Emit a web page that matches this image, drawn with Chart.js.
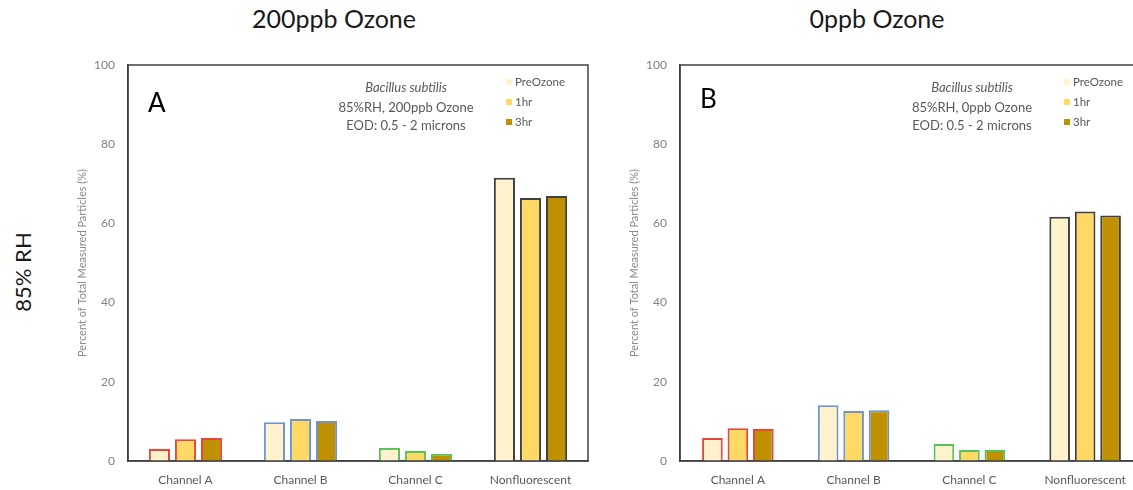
<!DOCTYPE html>
<html>
<head>
<meta charset="utf-8">
<script src="https://cdn.jsdelivr.net/npm/chart.js@4.4.1/dist/chart.umd.min.js"></script>
<style>
  html, body { margin: 0; padding: 0; background: #fff; width: 1133px; height: 490px; overflow: hidden; position: relative; font-family: Lato, "Open Sans", sans-serif; }
  .title { position: absolute; top: 3px; font-size: 25px; color: #1a1a1a; white-space: nowrap; transform: translateX(-50%); }
  #rh { position: absolute; left: 22px; top: 272px; font-size: 22px; color: #1a1a1a; white-space: nowrap; transform: translate(-50%, -50%) rotate(-90deg); }
  .wrap { position: absolute; top: 0; height: 490px; }
</style>
</head>
<body>
<div class="title" style="left:334px;">200ppb Ozone</div>
<div class="title" style="left:877px;">0ppb Ozone</div>
<div id="rh">85% RH</div>
<div class="wrap" style="left:60px;width:540px;"><canvas id="c1" width="540" height="490"></canvas></div>
<div class="wrap" style="left:612px;width:560px;"><canvas id="c2" width="560" height="490"></canvas></div>
<script>
const categories = ['Channel A', 'Channel B', 'Channel C', 'Nonfluorescent'];
const seriesNames = ['PreOzone', '1hr', '3hr'];
const yTicks = [0, 20, 40, 60, 80, 100];

// Panel A: 85%RH, 200ppb Ozone
const a_PreOzone = [3.0, 9.8, 3.3, 71.5];
const a_1hr      = [5.5, 10.6, 2.5, 66.4];
const a_3hr      = [5.8, 10.1, 1.8, 66.9];

// Panel B: 85%RH, 0ppb Ozone
const b_PreOzone = [5.8, 14.1, 4.3, 61.7];
const b_1hr      = [8.3, 12.6, 2.8, 63.0];
const b_3hr      = [8.1, 12.8, 2.8, 62.0];

const fills = ['#FFF2CC', '#FFD966', '#BF9000'];
const edgeByCategory = ['#E8453C', '#6F93CF', '#55C25A', '#404040'];
const FONT = 'Lato, "Open Sans", sans-serif';

function makeChart(id, data, opts) {
  const ctx = document.getElementById(id);
  const annot = {
    id: 'annot',
    afterDraw(chart) {
      const c = chart.ctx, a = chart.chartArea;
      c.save();
      c.strokeStyle = '#404040';
      c.lineWidth = 1.5;
      c.strokeRect(a.left, a.top, a.right - a.left, a.bottom - a.top);
      c.fillStyle = '#000';
      c.font = '26px ' + FONT;
      c.textAlign = 'left';
      c.textBaseline = 'alphabetic';
      c.fillText(opts.letter, opts.letterX, opts.letterY);
      c.fillStyle = '#595959';
      c.textAlign = 'center';
      c.font = 'italic 13px ' + FONT;
      c.fillText('Bacillus subtilis', opts.annX, 92);
      c.font = '13px ' + FONT;
      c.fillText(opts.line2, opts.annX, 112);
      c.fillText('EOD: 0.5 - 2 microns', opts.annX, 130);
      c.font = '11.5px ' + FONT;
      c.textAlign = 'left';
      c.textBaseline = 'middle';
      const ys = [82, 102, 122];
      seriesNames.forEach((n, i) => {
        c.fillStyle = fills[i];
        c.fillRect(opts.legX, ys[i] - 3, 6, 6);
        c.fillStyle = '#595959';
        c.fillText(n, opts.legX + 9, ys[i]);
      });
      c.restore();
    }
  };
  return new Chart(ctx, {
    type: 'bar',
    data: {
      labels: categories,
      datasets: seriesNames.map((n, i) => ({
        label: n,
        data: data[i],
        backgroundColor: fills[i],
        borderColor: edgeByCategory,
        borderWidth: 2,
        borderSkipped: 'start',
        categoryPercentage: opts.cp,
        barPercentage: 0.81
      }))
    },
    options: {
      responsive: false,
      animation: false,
      layout: { padding: { top: 65, right: opts.padRight, bottom: 0, left: 0 } },
      plugins: { legend: { display: false }, tooltip: { enabled: false } },
      scales: {
        x: {
          grid: { display: false, drawTicks: false },
          border: { display: true, color: '#404040', width: 1.5 },
          ticks: { color: '#595959', font: { family: FONT, size: 12 }, padding: 12 },
          afterFit(s) { s.height = 29; }
        },
        y: {
          min: 0, max: 100,
          afterBuildTicks(s) { s.ticks = yTicks.map(v => ({ value: v })); },
          grid: { display: false, drawTicks: false },
          border: { display: true, color: '#404040', width: 1.5 },
          ticks: { color: '#7f7f7f', font: { family: FONT, size: 12 }, padding: 13 },
          title: { display: true, text: 'Percent of Total Measured Particles (%)', color: '#8a8a8a', font: { family: FONT, size: 11 }, padding: { top: 16, bottom: 0 } },
          afterFit(s) { s.width = 68; }
        }
      }
    },
    plugins: [annot]
  });
}

makeChart('c1', [a_PreOzone, a_1hr, a_3hr], {
  letter: 'A', letterX: 88, letterY: 112,
  annX: 346, line2: '85%RH, 200ppb Ozone',
  legX: 446, cp: 0.68, padRight: 12
});
makeChart('c2', [b_PreOzone, b_1hr, b_3hr], {
  letter: 'B', letterX: 88, letterY: 108,
  annX: 360, line2: '85%RH, 0ppb Ozone',
  legX: 452, cp: 0.66, padRight: 29
});
</script>
</body>
</html>
